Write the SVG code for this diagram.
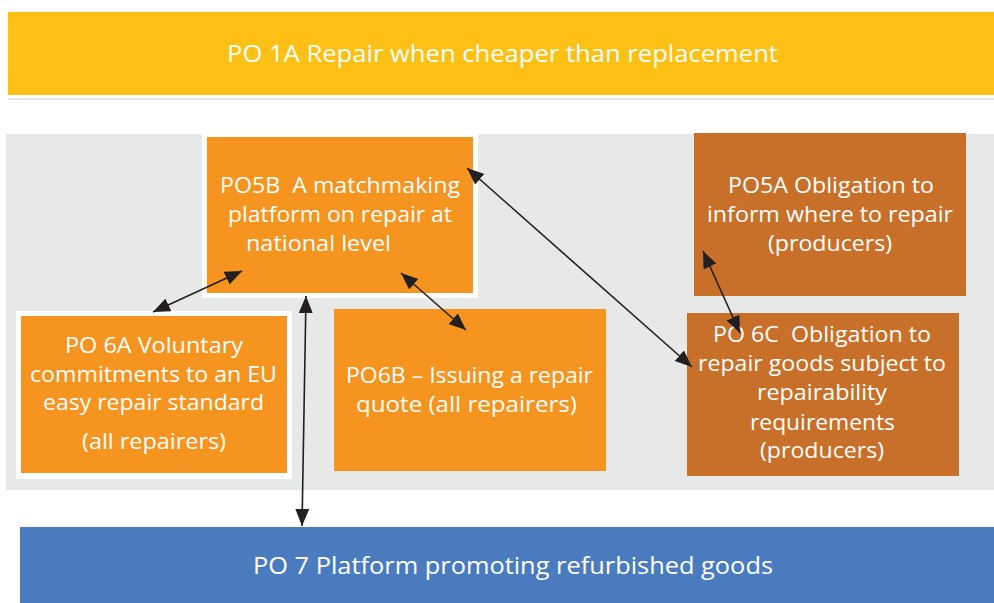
<svg xmlns="http://www.w3.org/2000/svg" width="994" height="603" viewBox="0 0 994 603">
<style>
.t{font-family:"Open Sans","Liberation Sans",sans-serif;fill:#fff;font-size:21px}
.tb{font-family:"Open Sans","Liberation Sans",sans-serif;fill:#fff;font-size:23px}
.c{stroke:#231f20;stroke-width:1.6;fill:none;marker-start:url(#ah);marker-end:url(#ah)}
.o{fill:#f5941f}
.d{fill:#c87029}
</style>
<defs>
<marker id="ah" markerUnits="userSpaceOnUse" markerWidth="19" markerHeight="15" refX="17" refY="7" orient="auto-start-reverse">
<path d="M0,0 L17,7 L0,14 z" fill="#231f20"/>
</marker>
</defs>
<rect width="994" height="603" fill="#fff"/>
<g id="po1a">
<rect x="8" y="12" width="986" height="83" fill="#fdc014"/>
<text class="tb" x="227" y="62" textLength="551" lengthAdjust="spacingAndGlyphs">PO 1A Repair when cheaper than replacement</text>
</g>
<rect x="8" y="98" width="986" height="2" fill="#e2e3e3"/>
<rect id="panel" x="6" y="134" width="988" height="356" fill="#e7e8e8"/>
<g id="po5b">
<rect x="202" y="132" width="276" height="166" fill="#fff"/>
<rect class="o" x="207" y="137" width="266" height="156"/>
<text class="t" xml:space="preserve" x="220" y="193" textLength="240" lengthAdjust="spacingAndGlyphs">PO5B  A matchmaking</text>
<text class="t" x="228" y="222" textLength="224" lengthAdjust="spacingAndGlyphs">platform on repair at</text>
<text class="t" x="246" y="251" textLength="145" lengthAdjust="spacingAndGlyphs">national level</text>
</g>
<g id="po5a">
<rect class="d" x="694" y="133" width="272" height="163"/>
<text class="t" x="728" y="193" textLength="206" lengthAdjust="spacingAndGlyphs">PO5A Obligation to</text>
<text class="t" x="707" y="222" textLength="246" lengthAdjust="spacingAndGlyphs">inform where to repair</text>
<text class="t" x="768" y="251" textLength="124" lengthAdjust="spacingAndGlyphs">(producers)</text>
</g>
<g id="po6a">
<rect x="16" y="311" width="276" height="168" fill="#fff"/>
<rect class="o" x="21" y="316" width="266" height="157"/>
<text class="t" x="65" y="353" textLength="178" lengthAdjust="spacingAndGlyphs">PO 6A Voluntary</text>
<text class="t" x="30" y="382" textLength="247" lengthAdjust="spacingAndGlyphs">commitments to an EU</text>
<text class="t" x="43" y="410" textLength="221" lengthAdjust="spacingAndGlyphs">easy repair standard</text>
<text class="t" x="82" y="449" textLength="144" lengthAdjust="spacingAndGlyphs">(all repairers)</text>
</g>
<g id="po6b">
<rect class="o" x="334" y="309" width="272" height="162"/>
<text class="t" x="346" y="383" textLength="247" lengthAdjust="spacingAndGlyphs">PO6B – Issuing a repair</text>
<text class="t" x="356" y="412" textLength="221" lengthAdjust="spacingAndGlyphs">quote (all repairers)</text>
</g>
<g id="po6c">
<rect class="d" x="687" y="313" width="272" height="163"/>
<text class="t" xml:space="preserve" x="713" y="342" textLength="218" lengthAdjust="spacingAndGlyphs">PO 6C  Obligation to</text>
<text class="t" x="698" y="371" textLength="248" lengthAdjust="spacingAndGlyphs">repair goods subject to</text>
<text class="t" x="757" y="400" textLength="130" lengthAdjust="spacingAndGlyphs">repairability</text>
<text class="t" x="750" y="430" textLength="145" lengthAdjust="spacingAndGlyphs">requirements</text>
<text class="t" x="760" y="458" textLength="124" lengthAdjust="spacingAndGlyphs">(producers)</text>
</g>
<g id="po7">
<rect x="20" y="527" width="974" height="76" fill="#4a7bbf"/>
<text class="tb" x="253" y="574" textLength="520" lengthAdjust="spacingAndGlyphs">PO 7 Platform promoting refurbished goods</text>
</g>
<g id="connectors">
<line class="c" x1="242" y1="271" x2="153" y2="312"/>
<line class="c" x1="306" y1="296" x2="302" y2="526"/>
<line class="c" x1="401" y1="273" x2="466" y2="330"/>
<line class="c" x1="467" y1="168" x2="692" y2="367"/>
<line class="c" x1="703" y1="251" x2="740" y2="333"/>
</g>
</svg>
